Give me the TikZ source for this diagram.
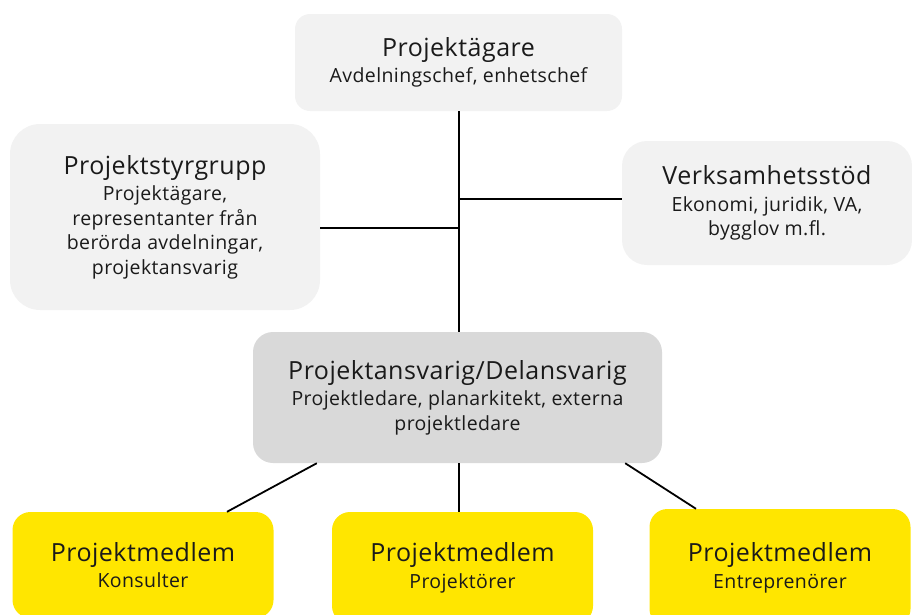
\documentclass[tikz,border=0pt]{standalone}
\usepackage{fontspec}
\setmainfont{Open Sans}
\usepackage{tikz}
\usetikzlibrary{positioning, calc}
\definecolor{ljusgrau}{RGB}{242,242,242}
\definecolor{mellangrau}{RGB}{217,217,217}
\definecolor{medlemgul}{RGB}{255,230,0}
\definecolor{textsvart}{RGB}{26,26,26}
\newcommand{\rubrik}[1]{{\fontsize{25}{28}\selectfont\addfontfeature{LetterSpace=2} #1}\\[2pt]}

\begin{document}
\begin{tikzpicture}[
    x=1pt, y=-1pt,
    box/.style={
        rectangle, rounded corners=15pt, inner sep=0pt,
        align=center, text=textsvart,
        font=\fontsize{19.5}{24.5}\selectfont\addfontfeature{LetterSpace=2},
        fill=ljusgrau
    },
    medlem/.style={
        box, fill=medlemgul, rounded corners=18pt,
        minimum width=261
    },
    linje/.style={
        line width=1.8pt, black
    }
]
\useasboundingbox (0,0) rectangle (912,614);

\node[box, minimum width=327, minimum height=97] (agare) at (458.5,62.5)
    {\rubrik{Projektägare}Avdelningschef, enhetschef};

\node[box, rounded corners=30pt, minimum width=310, minimum height=186] (styrgrupp) at (165,217)
    {\rubrik{Projektstyrgrupp}Projektägare,\\representanter från\\berörda avdelningar,\\projektansvarig};

\node[box, rounded corners=25pt, minimum width=290, minimum height=124] (stod) at (767,203)
    {\rubrik{Verksamhetsstöd}Ekonomi, juridik, VA,\\bygglov m.fl.};

\node[box, rounded corners=20pt, fill=mellangrau, minimum width=409, minimum height=131] (ansv) at (457.5,397.5)
    {\rubrik{Projektansvarig/Delansvarig}Projektledare, planarkitekt, externa\\projektledare};

\node[medlem, minimum height=106] (konsult) at (143,565) {\rubrik{Projektmedlem}Konsulter};
\node[medlem, minimum height=112] (projektor) at (462.5,568) {\rubrik{Projektmedlem}Projektörer};
\node[medlem, minimum height=118] (entrepren) at (780,568) {\rubrik{Projektmedlem}Entreprenörer};

\coordinate (knutV) at (459,228);
\coordinate (knutH) at (459,199);

\draw[linje] (agare.south -| knutV) -- (ansv.north -| knutV);
\draw[linje] (knutV -| styrgrupp.east) -- (knutV);
\draw[linje] (knutH) -- (knutH -| stod.west);

\draw[linje] (ansv.south -| knutV) -- (projektor.north -| knutV);
\draw[linje] ([xshift=64pt]ansv.south west) -- ([xshift=84pt]konsult.north);
\draw[linje] ([xshift=-37pt]ansv.south east) -- ([xshift=-84pt]entrepren.north);

\end{tikzpicture}
\end{document}
